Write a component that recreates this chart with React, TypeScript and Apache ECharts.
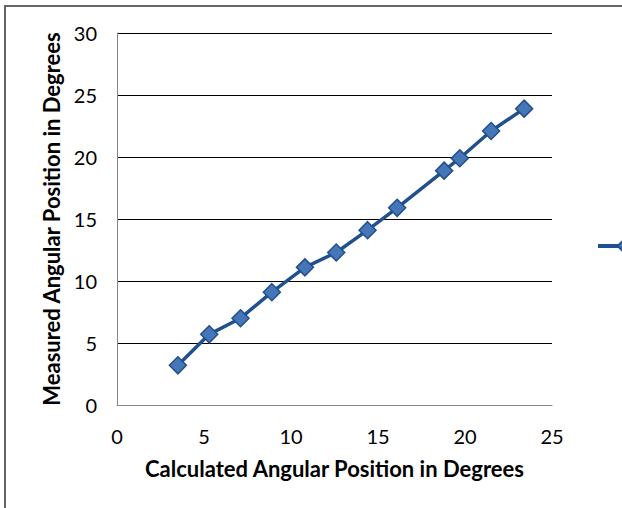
import React, { useEffect, useRef } from "react";
import * as echarts from "echarts";

const calculatedDeg = [3.5, 5.3, 7.1, 8.9, 10.8, 12.6, 14.4, 16.1, 18.8, 19.7, 21.5, 23.4];
const measuredDeg = [3.2, 5.7, 7.0, 9.1, 11.1, 12.3, 14.1, 15.9, 18.9, 19.9, 22.1, 23.9];
const seriesName = "Series1";
const xTitle = "Calculated Angular Position in Degrees";
const yTitle = "Measured Angular Position in Degrees";

const CHART_W = 780;

export default function App() {
  const ref = useRef<HTMLDivElement>(null);
  useEffect(() => {
    document.body.style.margin = "0";
    const chart = echarts.init(ref.current!, null, { renderer: "svg" });
    const font = "Lato, 'DejaVu Sans', sans-serif";
    chart.setOption({
      animation: false,
      backgroundColor: "#ffffff",
      textStyle: { fontFamily: font },
      graphic: [
        {
          type: "rect",
          shape: { x: 5, y: 6, width: 900, height: 700 },
          style: { fill: "none", stroke: "#666666", lineWidth: 2 },
          silent: true,
          z: -1,
        },
      ],
      legend: {
        left: 596,
        top: 237,
        padding: 0,
        itemWidth: 52,
        itemHeight: 16,
        itemGap: 10,
        lineStyle: { width: 4, color: "#20508f" },
        textStyle: { fontSize: 18, lineHeight: 16, color: "#000", padding: [0, 0, 0, 8] },
        data: [seriesName],
      },
      grid: { left: 117, top: 33, right: CHART_W - 552, bottom: 103, containLabel: false },
      xAxis: {
        type: "value",
        min: 0,
        max: 25,
        interval: 5,
        name: xTitle,
        nameLocation: "middle",
        nameGap: 52,
        nameTextStyle: { fontSize: 22, fontWeight: "bold", color: "#000", fontFamily: font },
        axisLine: { show: true, lineStyle: { color: "#868686", width: 1 } },
        axisTick: { show: false },
        axisLabel: { fontSize: 20, color: "#000", margin: 21, fontFamily: font },
        splitLine: { show: false },
      },
      yAxis: {
        type: "value",
        min: 0,
        max: 30,
        interval: 5,
        name: yTitle,
        nameLocation: "middle",
        nameGap: 49,
        nameTextStyle: { fontSize: 22, fontWeight: "bold", color: "#000", fontFamily: font },
        axisLine: { show: true, lineStyle: { color: "#868686", width: 1 } },
        axisTick: { show: false },
        axisLabel: { fontSize: 20, color: "#000", margin: 20, fontFamily: font },
        splitLine: { show: true, lineStyle: { color: "#000", width: 1 } },
      },
      series: [
        {
          name: seriesName,
          type: "line",
          data: calculatedDeg.map((x, i) => [x, measuredDeg[i]]),
          symbol: "diamond",
          symbolSize: 17,
          lineStyle: { color: "#20508f", width: 3.5 },
          itemStyle: { color: "#4476b8", borderColor: "#24508a", borderWidth: 1.5 },
        },
      ],
    });
    return () => chart.dispose();
  }, []);
  return (
    <div style={{ width: 622, height: 508, overflow: "hidden" }}>
      <div ref={ref} style={{ width: CHART_W, height: 508 }} />
    </div>
  );
}
